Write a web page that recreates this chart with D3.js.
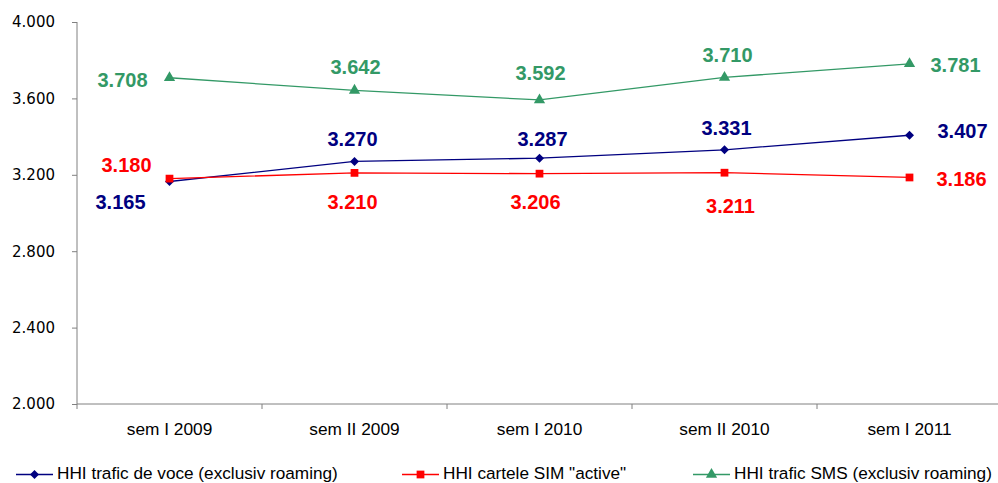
<!DOCTYPE html>
<html><head><meta charset="utf-8">
<script src="https://cdn.jsdelivr.net/npm/d3@7"></script>
<style>body{margin:0;background:#fff}svg{display:block}</style>
</head><body>
<svg id="c" width="998" height="483"></svg>
<script>
const categories = ["sem I 2009","sem II 2009","sem I 2010","sem II 2010","sem I 2011"];
const voce = [3165,3270,3287,3331,3407];
const sim = [3180,3210,3206,3211,3186];
const sms = [3708,3642,3592,3710,3781];
const yTicks = [2000,2400,2800,3200,3600,4000];
const seriesNames = ['HHI trafic de voce (exclusiv roaming)','HHI cartele SIM "active"','HHI trafic SMS (exclusiv roaming)'];

// label placement (offsets in px from the point)
const voceOff = [[-49,28],[-2,-15],[3,-12],[2,-15],[53,3]];
const simOff = [[-43,-7],[-2,36],[-4,35],[6,40],[52,9]];
const smsOff = [[-47,9],[1,-16],[1,-20],[3,-15],[46,8]];

const svg = d3.select("#c");
const L = 77, R = 1002, T = 22, B = 404;
const x = d3.scaleBand().domain(categories).range([L,R]);
const y = d3.scaleLinear().domain([2000,4000]).range([B,T]);
const fmt = v => d3.format(",")(v).replace(/,/g,".");
const cx = c => x(c) + x.bandwidth()/2;

// Y axis
const ya = svg.append("g").attr("transform",`translate(${L},0)`)
  .call(d3.axisLeft(y).tickValues(yTicks).tickFormat(fmt).tickSize(5).tickPadding(17));
ya.select(".domain").attr("stroke","#808080").attr("d",`M0,${T}V${B}`);
ya.selectAll(".tick line").attr("stroke","#808080");
ya.selectAll(".tick text").attr("font-family","DejaVu Sans").attr("font-size",15).attr("fill","#000");

// X axis
const xa = svg.append("g").attr("transform",`translate(0,${B})`)
  .call(d3.axisBottom(x).tickSize(0).tickPadding(0));
xa.select(".domain").attr("stroke","#808080").attr("d",`M${L},0H${R}`);
xa.selectAll(".tick text").attr("font-family","Liberation Sans, Arial").attr("font-size",17.3).attr("fill","#000").attr("dy",null).attr("y",31);
const bounds = categories.map(c=>x(c));
svg.append("g").selectAll("line").data(bounds).join("line")
  .attr("x1",d=>d).attr("x2",d=>d).attr("y1",B).attr("y2",B+5).attr("stroke","#808080");

const diamond = {draw(ctx,size){const r=Math.sqrt(size/2);ctx.moveTo(0,-r);ctx.lineTo(r,0);ctx.lineTo(0,r);ctx.lineTo(-r,0);ctx.closePath();}};
const series = [
  {vals:voce, color:"#000080", marker:diamond, msize:41, off:voceOff},
  {vals:sim, color:"#FF0000", marker:d3.symbolSquare, msize:60, off:simOff},
  {vals:sms, color:"#339966", marker:d3.symbolTriangle, msize:55, off:smsOff}
];
const line = d3.line().x((d,i)=>cx(categories[i])).y(d=>y(d));
series.forEach(s=>{
  svg.append("path").attr("d",line(s.vals)).attr("fill","none").attr("stroke",s.color).attr("stroke-width",1.3);
  svg.append("g").selectAll("path").data(s.vals).join("path")
    .attr("d",d3.symbol().type(s.marker).size(s.msize))
    .attr("transform",(d,i)=>`translate(${cx(categories[i])},${y(d)})`)
    .attr("fill",s.color);
  svg.append("g").selectAll("text").data(s.vals).join("text")
    .attr("x",(d,i)=>cx(categories[i])+s.off[i][0])
    .attr("y",(d,i)=>y(d)+s.off[i][1])
    .attr("text-anchor","middle")
    .attr("font-family","Liberation Sans, Arial").attr("font-weight","bold").attr("font-size",20)
    .attr("fill",s.color).text(fmt);
});

// Legend
const legX = [16,402,693];
series.forEach((s,i)=>{
  const g = svg.append("g").attr("transform",`translate(${legX[i]},474.5)`);
  g.append("line").attr("x1",0).attr("x2",37).attr("stroke",s.color).attr("stroke-width",1.3);
  g.append("path").attr("d",d3.symbol().type(s.marker).size(s.msize)).attr("transform","translate(18.5,0)").attr("fill",s.color);
  g.append("text").attr("x",41).attr("y",4.5).attr("font-family","Liberation Sans, Arial").attr("font-size",17.2).attr("fill","#000").text(seriesNames[i]);
});
</script>
</body></html>
